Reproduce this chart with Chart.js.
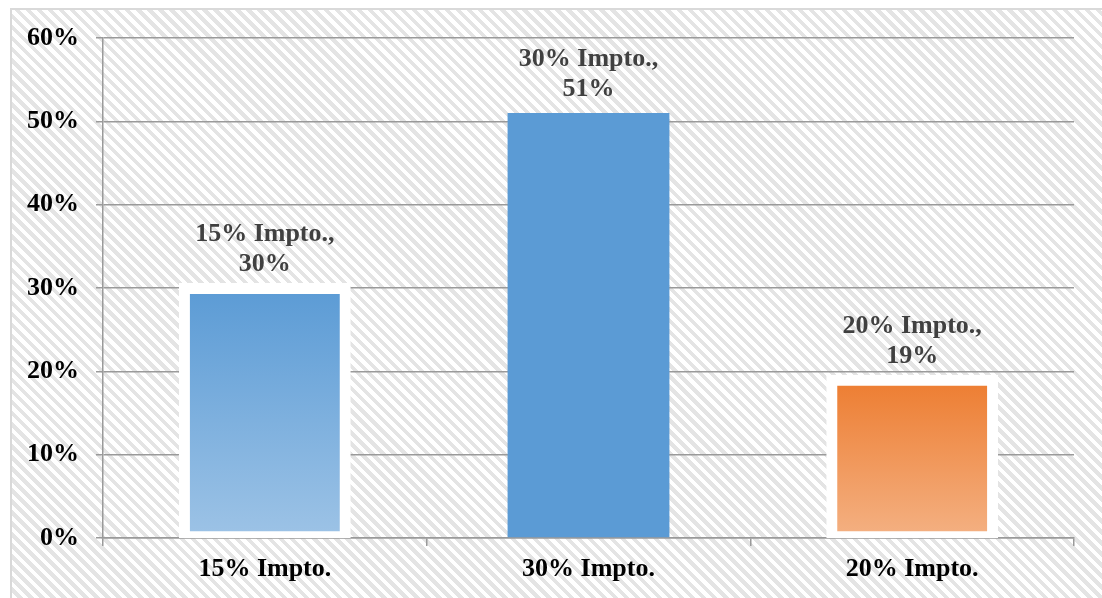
<!DOCTYPE html>
<html>
<head>
<meta charset="utf-8">
<script src="https://cdn.jsdelivr.net/npm/chart.js@4.4.1/dist/chart.umd.min.js"></script>
<style>
    html, body { margin: 0; padding: 0; background: #fff; }
    .frame {
        position: absolute;
        left: 10px;
        top: 8px;
        width: 1092px;
        height: 590px;
        box-sizing: border-box;
        border-left: 2px solid #d9d9d9;
        border-top: 2px solid #d9d9d9;
        background: repeating-linear-gradient(45deg, #ffffff 0px, #ffffff 3.9px, #e4e4e4 3.9px, #e4e4e4 7.8px);
    }
    #chart-bar { position: absolute; left: 0; top: 0; }
</style>
</head>
<body>
<div class="frame"></div>
<canvas id="chart-bar" width="1102" height="598"></canvas>
<script>
// 데이터
const categories = ["15% Impto.", "30% Impto.", "20% Impto."];
const shares = [30, 51, 19];
const yTicks = [0, 10, 20, 30, 40, 50, 60];

// 색상
const topColors = ["#5b9bd5", "#5b9bd5", "#ed7d31"];
const bottomColors = ["#9dc3e6", "#5b9bd5", "#f4b183"];
const frameBorder = [11, 0, 11];
const inflate = [5, 0, 5];

const serif = "'Times New Roman', 'Liberation Serif', serif";
const gridColor = "#9a9a9a";

// 막대 그라데이션
function barFill(context) {
    const chart = context.chart;
    const i = context.dataIndex;
    if (!chart.chartArea || !chart.scales.y) return topColors[i];
    const y = chart.scales.y;
    const g = chart.ctx.createLinearGradient(0, y.getPixelForValue(shares[i]), 0, y.getPixelForValue(0));
    g.addColorStop(0, topColors[i]);
    g.addColorStop(1, bottomColors[i]);
    return g;
}

// 데이터 라벨 (카테고리, 값)
const barLabels = {
    id: "barLabels",
    afterDatasetsDraw(chart) {
        const ctx = chart.ctx;
        const meta = chart.getDatasetMeta(0);
        const y = chart.scales.y;
        ctx.save();
        ctx.font = "bold 26px " + serif;
        ctx.fillStyle = "#404040";
        ctx.textAlign = "center";
        ctx.textBaseline = "alphabetic";
        meta.data.forEach((bar, i) => {
            const base = y.getPixelForValue(shares[i]) - 17;
            ctx.fillText(categories[i] + ",", bar.x, base - 30);
            ctx.fillText(shares[i] + "%", bar.x, base);
        });
        ctx.restore();
    }
};

const config_bar = {
    type: "bar",
    data: {
        labels: categories,
        datasets: [{
            data: shares,
            backgroundColor: barFill,
            borderColor: "#ffffff",
            borderWidth: frameBorder.map(w => ({ top: w, left: w, right: w, bottom: w })),
            borderSkipped: false,
            inflateAmount: inflate,
            barPercentage: 0.5,
            categoryPercentage: 1,
            clip: { left: 30, top: 30, right: 30, bottom: 0 }
        }]
    },
    plugins: [barLabels],
    options: {
        responsive: false,
        animation: false,
        layout: {
            padding: { top: 38, right: 28, left: 0, bottom: 0 }
        },
        scales: {
            x: {
                z: 1,
                grid: {
                    display: true,
                    drawOnChartArea: false,
                    offset: true,
                    tickLength: 8,
                    color: gridColor,
                    lineWidth: 1.5
                },
                border: { display: true, color: gridColor, width: 1.5 },
                ticks: {
                    padding: 8,
                    color: "#000",
                    font: { family: serif, size: 26, weight: "bold" }
                },
                afterFit(scale) { scale.height = 60; }
            },
            y: {
                min: yTicks[0],
                max: yTicks[yTicks.length - 1],
                afterBuildTicks(scale) {
                    scale.ticks = yTicks.map(v => ({ value: v }));
                },
                grid: {
                    color: gridColor,
                    lineWidth: 1.5,
                    tickLength: 7
                },
                border: { display: true, color: gridColor, width: 1.5 },
                ticks: {
                    padding: 17,
                    color: "#000",
                    font: { family: serif, size: 26, weight: "bold" },
                    callback: function (value) {
                        return value + "%";
                    }
                },
                afterFit(scale) { scale.width = 103; }
            }
        },
        plugins: {
            legend: { display: false },
            tooltip: { enabled: false }
        }
    }
};

new Chart(document.getElementById("chart-bar"), config_bar);
</script>
</body>
</html>
